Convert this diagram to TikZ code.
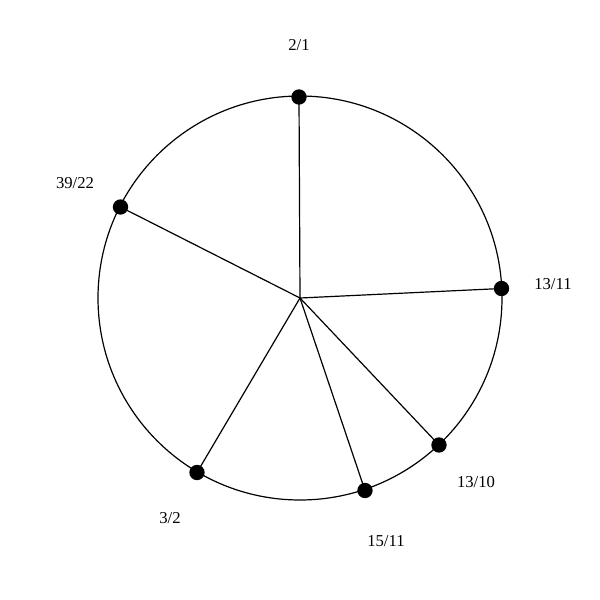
\documentclass[tikz,border=0pt]{standalone}
\usepackage{fontspec}
\setmainfont{Liberation Serif}
\usetikzlibrary{positioning}

\begin{document}
\begin{tikzpicture}[x=0.75pt,y=0.75pt,yscale=-1,xscale=1,
  dot/.style={circle,fill=black,inner sep=0pt,minimum size=11.5pt},
  lbl/.style={font=\fontsize{12.5}{15}\selectfont,inner sep=0.75pt}]
\useasboundingbox (0,0) rectangle (600,600);

%Shape: Circle
\coordinate (o) at (300,298);
\draw[line width=0.9pt] (o) circle [radius=202];

% Dots
\node[dot] (p1) at (299,97) {};
\node[dot] (p2) at (501.5,288.5) {};
\node[dot] (p3) at (439,445) {};
\node[dot] (p4) at (365,490.5) {};
\node[dot] (p5) at (197,472.5) {};
\node[dot] (p6) at (120.5,207) {};

%Straight Lines
\foreach \p in {p1,p2,p3,p4,p5,p6}
  \draw[line width=0.9pt] (o) -- (\p.center);

% Text Node
\node[lbl] (t1) at (299,45) {2/1};
\node[lbl] (t2) at (553,284) {13/11};
\node[lbl] (t3) at (476,482) {13/10};
\node[lbl] (t4) at (386,541) {15/11};
\node[lbl] (t5) at (170,518) {3/2};
\node[lbl] (t6) at (75,183) {39/22};

\end{tikzpicture}
\end{document}
